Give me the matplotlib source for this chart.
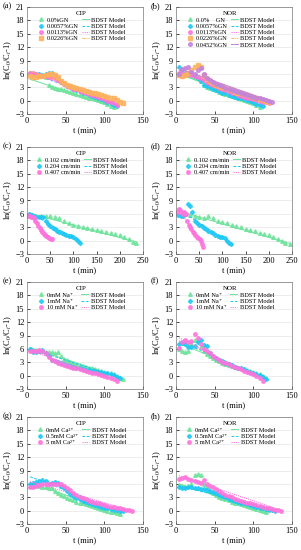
import matplotlib
matplotlib.use("Agg")
import matplotlib.pyplot as plt

plt.rcParams['font.family'] = ['Liberation Serif', 'DejaVu Serif']
plt.rcParams['mathtext.fontset'] = 'stix'

# common sampling times (min)
t4 = [4, 8, 12, 16, 20, 24, 28, 32, 36, 40, 44, 48, 52, 56, 60, 64, 68, 72,
      76, 80, 84, 88, 92, 96, 100, 104, 108, 112, 116, 120, 124, 128, 132, 136]
t3 = [3, 6, 9, 12, 15, 18, 21, 24, 27, 30, 33, 36, 39, 42, 45, 48, 51, 54, 57, 59]
t5 = [5, 10, 15, 20, 25, 30, 35, 40, 45, 50, 55, 60, 65, 70, 75, 80, 85, 90,
      95, 100, 105, 110, 115, 118]
t10 = [10, 20, 30, 40, 50, 60, 70, 80, 90, 100, 110, 120, 130, 140, 150, 160,
       170, 180, 190, 200, 210, 220, 228, 235, 245]

# (a) CIP, GN dose
a_labels = ["0.0%GN", "0.0057%GN", "0.0113%GN", "0.0226%GN"]
a_y = [
    [6.0, 5.8, 5.7, 5.6, 5.5, 5.4, 3.5, 3.0, 2.8, 2.7, 2.5, 2.3, 2.1, 1.9, 1.7, 1.5,
     1.3, 1.1, 0.9, 0.7, 0.5, 0.3, 0.1, -0.1, -0.4, -0.7, -1.1, -1.5],
    [6.2, 6.0, 5.9, 5.9, 5.8, 6.0, 6.1, 6.1, 5.8, 4.8, 4.2, 3.7, 3.3, 3.0, 2.7, 2.4,
     2.1, 1.8, 1.6, 1.3, 1.1, 0.8, 0.6, 0.3, 0.1, -0.2, -0.5, -0.9, -1.2],
    [6.3, 6.2, 6.0, 5.8, 5.6, 5.5, 5.3, 5.2, 5.0, 4.6, 4.1, 3.7, 3.3, 3.0, 2.7, 2.5,
     2.2, 2.0, 1.7, 1.5, 1.2, 1.0, 0.8, 0.5, 0.3, 0.0, -0.3, -0.6, -1.0],
    [5.5, 5.4, 5.4, 5.5, 5.6, 5.8, 5.9, 5.9, 5.8, 5.4, 4.5, 4.0, 3.6, 3.3, 3.0, 2.8,
     2.6, 2.4, 2.2, 2.0, 1.8, 1.6, 1.4, 1.3, 1.1, 0.9, 0.7, 0.5, 0.2, -0.2, -0.5],
]
a_mt = [[4, 110], [4, 116], [4, 116], [4, 124]]
a_my = [[4.8, -1.3], [6.3, -0.9], [6.4, -0.7], [6.6, -0.4]]

# (b) NOR, GN dose
b_labels = ["0.0%    GN", "0.0057%GN", "0.0113%GN", "0.0226%GN", "0.0452%GN"]
b_y = [
    [6.0, 5.9, 5.8, 5.7, 5.6, 5.3, 5.0, 4.5, 3.5, 3.0, 2.8, 2.6, 2.3, 2.0, 1.8, 1.5,
     1.3, 1.0, 0.8, 0.6, 0.4, 0.2, 0.0, -0.3, -0.6, -1.0, -1.5],
    [7.6, 6.5, 6.3, 6.2, 6.0, 5.5, 5.0, 4.5, 3.5, 3.2, 3.0, 2.7, 2.4, 2.1, 1.8, 1.6,
     1.3, 1.1, 0.9, 0.7, 0.5, 0.3, 0.1, -0.1, -0.4, -0.7, -1.0, -1.3],
    [6.2, 6.0, 5.9, 6.0, 5.8, 5.5, 5.3, 5.0, 4.6, 4.2, 3.8, 3.5, 3.2, 2.9, 2.6, 2.3,
     2.1, 1.8, 1.6, 1.3, 1.1, 0.9, 0.7, 0.5, 0.3, 0.1, -0.1, -0.3, -0.4, -0.5],
    [5.8, 5.6, 5.8, 6.2, 6.8, 7.6, 8.0, 7.5, 5.8, 4.8, 4.4, 4.0, 3.6, 3.3, 3.0, 2.8,
     2.5, 2.3, 2.0, 1.8, 1.6, 1.4, 1.2, 1.0, 0.8, 0.6, 0.4, 0.2, 0.0, -0.2],
    [6.0, 7.0, 7.3, 7.5, 6.5, 6.0, 6.8, 7.3, 6.0, 5.0, 4.6, 4.2, 3.8, 3.5, 3.2, 2.9,
     2.6, 2.4, 2.1, 1.9, 1.7, 1.5, 1.3, 1.1, 0.9, 0.7, 0.5, 0.3, 0.1, -0.1, -0.3],
]
b_mt = [[4, 108], [4, 112], [4, 120], [4, 120], [4, 124]]
b_my = [[6.0, -1.0], [6.8, -1.0], [6.4, -0.4], [7.0, -0.2], [7.2, -0.2]]

# (c) CIP, flow rate
c_labels = ["0.102 cm/min", "0.204 cm/min", "0.407 cm/min"]
c_t = [t10[:24], t5[:23], t3[:18]]
c_y = [
    [5.8, 5.6, 5.5, 5.5, 5.6, 5.3, 5.0, 4.5, 4.0, 3.6, 3.3, 3.0, 2.8, 2.6, 2.4, 2.2,
     2.0, 1.8, 1.5, 1.2, 0.8, 0.3, -0.2, -0.5],
    [6.0, 5.8, 5.6, 5.4, 5.3, 5.3, 5.2, 4.5, 3.8, 3.3, 2.9, 2.5, 2.2, 1.9, 1.6, 1.4,
     1.2, 1.1, 1.0, 0.8, 0.4, 0.0, -0.6],
    [5.6, 5.5, 5.4, 5.3, 5.0, 4.5, 3.9, 3.3, 2.8, 2.3, 1.9, 1.5, 1.2, 1.0, 0.8, 0.6,
     0.4, 0.3],
]
c_mt = [[10, 235], [5, 115], [3, 54]]
c_my = [[6.0, -0.3], [6.3, -0.3], [6.2, 0.2]]

# (d) NOR, flow rate
d_t = [[20] + t10[2:], t5, t3]
d_y = [
    [6.0, 5.8, 5.5, 5.2, 5.0, 5.5, 5.0, 4.5, 4.2, 3.9, 3.6, 3.3, 3.0, 2.7, 2.4, 2.1,
     1.8, 1.5, 1.2, 0.8, 0.4, 0.0, -0.5, -0.8],
    [5.8, 5.5, 5.6, 6.0, 8.2, 7.8, 6.5, 4.5, 4.0, 3.6, 3.2, 2.8, 2.5, 2.2, 1.9, 1.6,
     1.3, 1.0, 0.9, 0.8, 0.5, 0.0, -0.5, -0.8],
    [6.5, 7.0, 6.8, 6.3, 6.0, 6.5, 6.0, 4.5, 3.5, 3.0, 2.5, 2.0, 1.6, 1.2, 0.8, 0.5,
     0.3, 0.0, -0.8, -1.5],
]
d_mt = [[20, 245], [5, 118], [3, 59]]
d_my = [[6.2, -0.6], [7.0, -0.6], [7.3, -0.8]]

# (e) CIP, Na+
na_labels = ["0mM Na⁺", "1mM Na⁺", "10 mM Na⁺"]
e_y = [
    [6.0, 5.8, 5.7, 5.6, 5.5, 5.4, 5.3, 5.2, 5.1, 5.3, 4.3, 3.8, 3.4, 3.1, 2.8, 2.6,
     2.4, 2.2, 2.0, 1.8, 1.6, 1.4, 1.2, 1.0, 0.8, 0.7, 0.6, 0.4, 0.0, -0.5, -0.8],
    [6.0, 5.3, 5.3, 5.5, 5.8, 5.0, 4.3, 3.5, 3.2, 3.0, 2.8, 2.6, 2.4, 2.2, 2.0, 1.8,
     1.6, 1.5, 1.3, 1.2, 1.1, 1.0, 0.9, 0.8, 0.7, 0.6, 0.4, 0.1, -0.3, -0.5],
    [5.6, 5.5, 5.6, 5.8, 5.6, 5.0, 4.2, 3.6, 3.2, 2.9, 2.6, 2.4, 2.2, 2.0, 1.8, 1.6,
     1.4, 1.2, 1.0, 0.9, 0.7, 0.5, 0.4, 0.2, 0.0, -0.2, -0.5, -0.8, -1.2],
]
e_mt = [[4, 123], [4, 120], [4, 116]]
e_my = [[6.3, -0.6], [6.0, -0.4], [5.6, -1.0]]

# (f) NOR, Na+
f_y = [
    [6.0, 5.5, 5.3, 5.5, 7.0, 8.0, 8.0, 6.5, 5.5, 4.8, 4.3, 3.9, 3.5, 3.2, 2.9, 2.6,
     2.4, 2.2, 2.0, 1.8, 1.6, 1.4, 1.2, 1.0, 0.8, 0.6, 0.3, 0.0, -0.5],
    [7.0, 7.3, 7.0, 6.5, 6.5, 6.6, 7.5, 8.0, 6.8, 6.7, 5.0, 4.5, 4.0, 3.6, 3.2, 2.9,
     2.6, 2.3, 2.0, 1.8, 1.6, 1.4, 1.1, 0.9, 0.6, 0.4, 0.1, -0.3, -0.8],
    [6.2, 7.5, 8.0, 7.5, 7.8, 9.3, 8.5, 7.0, 6.0, 5.6, 5.0, 4.4, 3.9, 3.5, 3.1, 2.8,
     2.5, 2.2, 1.9, 1.6, 1.4, 1.1, 0.9, 0.6, 0.3, 0.0, -0.5, -1.2],
]
f_mt = [[4, 116], [4, 116], [4, 112]]
f_my = [[7.2, -0.4], [7.8, -0.7], [8.5, -1.0]]

# (g) CIP, Ca2+
ca_labels = ["0mM Ca²⁺", "0.5mM Ca²⁺", "5 mM Ca²⁺"]
g_y = [
    [5.5, 5.6, 5.7, 5.5, 5.3, 5.2, 5.1, 5.0, 4.5, 4.0, 3.6, 3.2, 2.9, 2.6, 2.3, 2.0,
     1.8, 1.6, 1.4, 1.2, 1.0, 0.8, 0.6, 0.4, 0.2, 0.0, -0.2, -0.4, -0.6, -0.8],
    [6.0, 6.3, 6.5, 6.7, 6.8, 6.6, 6.0, 6.2, 6.4, 6.1, 5.5, 5.0, 4.5, 3.8, 3.2, 2.8,
     2.5, 2.2, 1.9, 1.6, 1.4, 1.2, 1.0, 0.8, 0.6, 0.5, 0.3, 0.2, 0.1, 0.0, -0.1],
    [5.3, 5.4, 5.6, 5.8, 5.9, 6.0, 6.0, 6.0, 5.9, 6.0, 5.9, 5.5, 5.0, 4.6, 4.0, 3.5,
     3.1, 2.8, 2.5, 2.2, 2.0, 1.8, 1.6, 1.4, 1.2, 1.0, 0.9, 0.8, 0.6, 0.5, 0.3, 0.2,
     0.1, 0.0],
]
g_mt = [[4, 120], [4, 124], [4, 136]]
g_my = [[6.2, -0.6], [7.6, -0.3], [6.5, 0.0]]

# (h) NOR, Ca2+
h_y = [
    [5.8, 5.5, 5.3, 5.5, 6.0, 8.0, 8.3, 8.0, 6.0, 5.2, 4.5, 4.0, 3.5, 3.1, 2.8, 2.5,
     2.3, 2.0, 1.8, 1.6, 1.4, 1.2, 1.0, 0.8, 0.6, 0.4, 0.2, 0.0, -0.3],
    [5.3, 5.0, 5.1, 5.2, 5.2, 5.1, 5.0, 4.9, 4.8, 4.7, 4.5, 4.2, 3.9, 3.6, 3.3, 3.0,
     2.7, 2.4, 2.2, 2.0, 1.8, 1.6, 1.4, 1.2, 1.0, 0.8, 0.6, 0.5, 0.3, 0.2, 0.1, 0.0],
    [7.0, 7.3, 7.6, 7.0, 6.8, 6.6, 6.4, 6.3, 6.8, 6.0, 5.6, 5.2, 4.8, 4.4, 4.0, 3.6,
     3.3, 3.0, 2.7, 2.4, 2.2, 2.0, 1.8, 1.6, 1.4, 1.2, 1.0, 0.8, 0.7, 0.5, 0.4, 0.2,
     0.1, 0.0],
]
h_mt = [[4, 116], [4, 128], [4, 136]]
h_my = [[6.0, -0.2], [5.6, 0.0], [7.8, 0.1]]

colors = ["#6EE39B", "#1EC8F5", "#FF73DC", "#FFB15E", "#C483DC"]
markers = ["^", "D", "o", "s", "o"]
msizes = [2.6, 2.1, 2.5, 2.5, 2.6]
lstyles = ["-", (0, (3, 1.5)), (0, (1.2, 1)), (0, (3, 1, 1, 1)), "-"]

W, H = 301, 550
fig = plt.figure(figsize=(W / 100, H / 100), dpi=100)

lefts = [27, 176]
tag_x = [3, 151]
tops = [7, 147, 282, 417]
aw, ah = 116, 107

panels = [
    ("(a)", "CIP", a_labels, [t4] * 4, a_y, a_mt, a_my, 150),
    ("(b)", "NOR", b_labels, [t4] * 5, b_y, b_mt, b_my, 150),
    ("(c)", "CIP", c_labels, c_t, c_y, c_mt, c_my, 250),
    ("(d)", "NOR", c_labels, d_t, d_y, d_mt, d_my, 250),
    ("(e)", "CIP", na_labels, [t4] * 3, e_y, e_mt, e_my, 150),
    ("(f)", "NOR", na_labels, [t4] * 3, f_y, f_mt, f_my, 150),
    ("(g)", "CIP", ca_labels, [t4] * 3, g_y, g_mt, g_my, 150),
    ("(h)", "NOR", ca_labels, [t4] * 3, h_y, h_mt, h_my, 150),
]

for i, (tag, title, labels, ts, ys, mts, mys, xmax) in enumerate(panels):
    row, col = divmod(i, 2)
    l, t = lefts[col], tops[row]
    ax = fig.add_axes([l / W, 1 - (t + ah) / H, aw / W, ah / H])
    mk_handles, ln_handles = [], []
    for k, (lab, y) in enumerate(zip(labels, ys)):
        x = ts[k][:len(y)]
        h1, = ax.plot(x, y, linestyle="none", marker=markers[k], ms=msizes[k],
                      color=colors[k], mec=colors[k], alpha=0.85, label=lab)
        h2, = ax.plot(mts[k], mys[k], linestyle=lstyles[k], lw=0.7,
                      color=colors[k], label="BDST Model")
        mk_handles.append(h1)
        ln_handles.append(h2)
    ax.set_xlim(0, xmax)
    ax.set_ylim(-3, 21)
    ax.set_yticks(range(-3, 22, 3))
    ax.set_xticks(range(0, xmax + 1, 50))
    ax.tick_params(direction="in", labelsize=6, length=2, width=0.5, pad=2)
    ax.grid(axis="y", color="#E6E6E6", lw=0.5)
    ax.set_axisbelow(True)
    for s in ax.spines.values():
        s.set_linewidth(0.5)
        s.set_color("#777777")
    ax.set_xlabel("t (min)", fontsize=6, labelpad=1)
    ax.set_ylabel("ln(C$_0$/C$_t$-1)", fontsize=6, labelpad=1)
    ax.legend(mk_handles + ln_handles,
              labels + ["BDST Model"] * len(labels),
              ncol=2, loc="upper center", bbox_to_anchor=(0.47, 1.0),
              frameon=False, fontsize=4.6, title=title,
              title_fontsize=5, handlelength=1.1, handletextpad=0.4,
              columnspacing=0.5, labelspacing=0.12, borderaxespad=0.4,
              borderpad=0.3)
    fig.text(tag_x[col] / W, 1 - (t - 1) / H, tag, fontsize=6,
             va="center", ha="left")

fig.savefig("out.png", dpi=100)
